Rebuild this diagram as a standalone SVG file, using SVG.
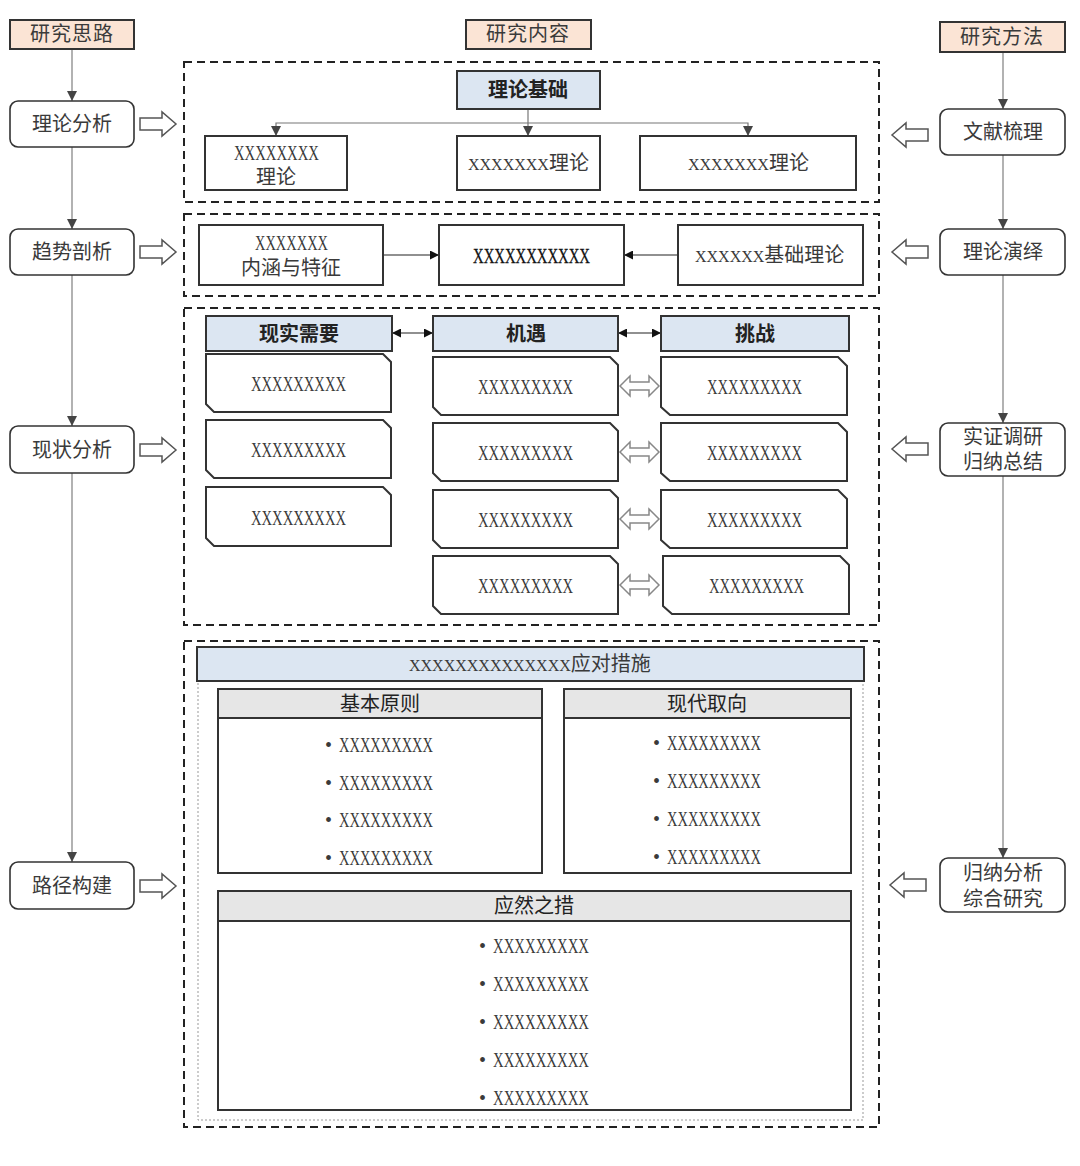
<svg xmlns="http://www.w3.org/2000/svg" width="1080" height="1166" viewBox="0 0 1080 1166">
<style>
text{font-family:"Liberation Serif","Noto Sans CJK SC",serif;font-size:20px;fill:#3a3a3a}
.x{font-family:"Liberation Serif",serif;font-size:22px}
.xs{font-family:"Liberation Serif",serif;font-size:16px}
.c{text-anchor:middle}
.b{font-weight:bold;fill:#222}
.hdr{fill:#fbe4d5;stroke:#333;stroke-width:2}
.node{fill:#fff;stroke:#333;stroke-width:1.6}
.box{fill:#fff;stroke:#333;stroke-width:2}
.blue{fill:#dce6f2;stroke:#333;stroke-width:2}
.gray{fill:#e6e6e6;stroke:#333;stroke-width:2}
.sec{fill:none;stroke:#222;stroke-width:2;stroke-dasharray:8 5}
.dot{fill:none;stroke:#999;stroke-width:1;stroke-dasharray:2 2}
.col{stroke:#999;stroke-width:1.5;fill:none}
.thin{stroke:#777;stroke-width:1.2;fill:none}
.blk{stroke:#222;stroke-width:1.2;fill:none}
.hol{fill:#fff;stroke:#555;stroke-width:1.5}
.dbl{fill:#fff;stroke:#888;stroke-width:1.5}
</style>
<defs>
<marker id="ah" viewBox="0 0 10 10" refX="10" refY="5" markerWidth="10" markerHeight="10" markerUnits="userSpaceOnUse" orient="auto-start-reverse"><path d="M0,0 L10,5 L0,10 z" fill="#444"/></marker>
<marker id="ab" viewBox="0 0 10 10" refX="10" refY="5" markerWidth="9" markerHeight="9" markerUnits="userSpaceOnUse" orient="auto-start-reverse"><path d="M0,0 L10,5 L0,10 z" fill="#111"/></marker>
</defs>
<rect width="1080" height="1166" fill="#fff"/>

<!-- section frames -->
<g id="sections">
<rect class="sec" x="184" y="62" width="695" height="140"/>
<rect class="sec" x="184" y="214" width="695" height="82"/>
<rect class="sec" x="184" y="308" width="695" height="317"/>
<rect class="sec" x="184" y="641" width="695" height="486"/>
<rect class="dot" x="198" y="681" width="665" height="439"/>
</g>

<!-- connectors -->
<g id="connectors">
<line class="col" x1="72" y1="49" x2="72" y2="101" marker-end="url(#ah)"/>
<line class="col" x1="72" y1="147" x2="72" y2="229" marker-end="url(#ah)"/>
<line class="col" x1="72" y1="275" x2="72" y2="426" marker-end="url(#ah)"/>
<line class="col" x1="72" y1="473" x2="72" y2="862" marker-end="url(#ah)"/>
<line class="col" x1="1003" y1="52" x2="1003" y2="109" marker-end="url(#ah)"/>
<line class="col" x1="1003" y1="155" x2="1003" y2="229" marker-end="url(#ah)"/>
<line class="col" x1="1003" y1="275" x2="1003" y2="423" marker-end="url(#ah)"/>
<line class="col" x1="1003" y1="476" x2="1003" y2="858" marker-end="url(#ah)"/>
<line class="thin" x1="528" y1="109" x2="528" y2="136" marker-end="url(#ah)"/>
<polyline class="thin" points="276,136 276,123 748,123 748,136" marker-start="url(#ah)" marker-end="url(#ah)"/>
<line class="blk" x1="383" y1="255" x2="439" y2="255" marker-end="url(#ab)"/>
<line class="blk" x1="678" y1="255" x2="624" y2="255" marker-end="url(#ab)"/>
<line class="blk" x1="392" y1="333" x2="433" y2="333" marker-start="url(#ab)" marker-end="url(#ab)"/>
<line class="blk" x1="618" y1="333" x2="661" y2="333" marker-start="url(#ab)" marker-end="url(#ab)"/>
<path class="hol" d="M140,118 H162 V112 L176,124 L162,136 V130 H140 Z"/>
<path class="hol" d="M140,246 H162 V240 L176,252 L162,264 V258 H140 Z"/>
<path class="hol" d="M140,444 H162 V438 L176,450 L162,462 V456 H140 Z"/>
<path class="hol" d="M140,880 H162 V874 L176,886 L162,898 V892 H140 Z"/>
<path class="hol" d="M928,129 H906 V123 L892,135 L906,147 V141 H928 Z"/>
<path class="hol" d="M928,246 H906 V240 L892,252 L906,264 V258 H928 Z"/>
<path class="hol" d="M928,443 H906 V437 L892,449 L906,461 V455 H928 Z"/>
<path class="hol" d="M926,879 H904 V873 L890,885 L904,897 V891 H926 Z"/>
<path class="dbl" d="M620,386 L630,376 V382 H649 V376 L659,386 L649,396 V390 H630 V396 Z"/>
<path class="dbl" d="M620,452 L630,442 V448 H649 V442 L659,452 L649,462 V456 H630 V462 Z"/>
<path class="dbl" d="M620,519 L630,509 V515 H649 V509 L659,519 L649,529 V523 H630 V529 Z"/>
<path class="dbl" d="M620,585 L630,575 V581 H649 V575 L659,585 L649,595 V589 H630 V595 Z"/>
</g>

<!-- column headers -->
<g id="h-silu"><rect class="hdr" x="10" y="20" width="124" height="29"/><text class="c" x="72" y="41" letter-spacing="1">研究思路</text></g>
<g id="h-neirong"><rect class="hdr" x="466" y="20" width="125" height="29"/><text class="c" x="528" y="41" letter-spacing="1">研究内容</text></g>
<g id="h-fangfa"><rect class="hdr" x="940" y="22" width="125" height="30"/><text class="c" x="1002" y="44" letter-spacing="1">研究方法</text></g>

<!-- left column -->
<g id="n-lilun"><rect class="node" x="10" y="101" width="124" height="46" rx="8"/><text class="c" x="72" y="131">理论分析</text></g>
<g id="n-qushi"><rect class="node" x="10" y="229" width="124" height="46" rx="8"/><text class="c" x="72" y="259">趋势剖析</text></g>
<g id="n-xianzhuang"><rect class="node" x="10" y="426" width="124" height="47" rx="8"/><text class="c" x="72" y="457">现状分析</text></g>
<g id="n-lujing"><rect class="node" x="10" y="862" width="124" height="47" rx="8"/><text class="c" x="72" y="893">路径构建</text></g>

<!-- right column -->
<g id="n-wenxian"><rect class="node" x="940" y="109" width="125" height="46" rx="8"/><text class="c" x="1003" y="139">文献梳理</text></g>
<g id="n-yanyi"><rect class="node" x="940" y="229" width="125" height="46" rx="8"/><text class="c" x="1003" y="259">理论演绎</text></g>
<g id="n-shizheng"><rect class="node" x="940" y="423" width="125" height="53" rx="8"/><text class="c" x="1003" y="444">实证调研</text><text class="c" x="1003" y="469">归纳总结</text></g>
<g id="n-guina"><rect class="node" x="940" y="858" width="125" height="54" rx="8"/><text class="c" x="1003" y="880">归纳分析</text><text class="c" x="1003" y="906">综合研究</text></g>

<!-- section 1 -->
<g id="n-jichu"><rect class="blue" x="457" y="71" width="143" height="38"/><text class="c b" x="528" y="97">理论基础</text></g>
<g id="n-t1"><rect class="box" x="205" y="136" width="142" height="54"/><text class="x" x="234" y="160"><tspan textLength="85" lengthAdjust="spacingAndGlyphs">XXXXXXXX</tspan></text><text class="c" x="276" y="184">理论</text></g>
<g id="n-t2"><rect class="box" x="457" y="136" width="143" height="54"/><text x="468" y="170"><tspan class="xs">XXXXXXX</tspan>理论</text></g>
<g id="n-t3"><rect class="box" x="640" y="136" width="216" height="54"/><text x="688" y="170"><tspan class="xs">XXXXXXX</tspan>理论</text></g>

<!-- section 2 -->
<g id="n-neihan"><rect class="box" x="199" y="225" width="184" height="60"/><text class="x" x="255" y="250"><tspan textLength="73" lengthAdjust="spacingAndGlyphs">XXXXXXX</tspan></text><text class="c" x="291" y="275">内涵与特征</text></g>
<g id="n-core"><rect class="box" x="439" y="225" width="185" height="60"/><text class="x" x="473" y="263" style="fill:#111;stroke:#111;stroke-width:0.3"><tspan textLength="117" lengthAdjust="spacingAndGlyphs">XXXXXXXXXXX</tspan></text></g>
<g id="n-jichulilun"><rect class="box" x="678" y="225" width="185" height="60"/><text x="695" y="262"><tspan class="xs">XXXXXX</tspan>基础理论</text></g>

<!-- section 3 -->
<g id="n-xuqiu"><rect class="blue" x="206" y="316" width="186" height="35"/><text class="c b" x="299" y="341">现实需要</text></g>
<g id="n-jiyu"><rect class="blue" x="433" y="316" width="185" height="35"/><text class="c b" x="526" y="341">机遇</text></g>
<g id="n-tiaozhan"><rect class="blue" x="661" y="316" width="188" height="35"/><text class="c b" x="755" y="341">挑战</text></g>

<g id="n-r1"><path class="box" d="M206,354 H383 L391,362 V412 H214 L206,404 Z"/><text class="x" x="251" y="391"><tspan textLength="95" lengthAdjust="spacingAndGlyphs">XXXXXXXXX</tspan></text></g>
<g id="n-r2"><path class="box" d="M206,420 H383 L391,428 V478 H214 L206,470 Z"/><text class="x" x="251" y="457"><tspan textLength="95" lengthAdjust="spacingAndGlyphs">XXXXXXXXX</tspan></text></g>
<g id="n-r3"><path class="box" d="M206,487 H383 L391,495 V546 H214 L206,538 Z"/><text class="x" x="251" y="525"><tspan textLength="95" lengthAdjust="spacingAndGlyphs">XXXXXXXXX</tspan></text></g>

<g id="n-j1"><path class="box" d="M433,357 H610 L618,365 V415 H441 L433,407 Z"/><text class="x" x="478" y="394"><tspan textLength="95" lengthAdjust="spacingAndGlyphs">XXXXXXXXX</tspan></text></g>
<g id="n-j2"><path class="box" d="M433,423 H610 L618,431 V481 H441 L433,473 Z"/><text class="x" x="478" y="460"><tspan textLength="95" lengthAdjust="spacingAndGlyphs">XXXXXXXXX</tspan></text></g>
<g id="n-j3"><path class="box" d="M433,490 H610 L618,498 V548 H441 L433,540 Z"/><text class="x" x="478" y="527"><tspan textLength="95" lengthAdjust="spacingAndGlyphs">XXXXXXXXX</tspan></text></g>
<g id="n-j4"><path class="box" d="M433,556 H610 L618,564 V614 H441 L433,606 Z"/><text class="x" x="478" y="593"><tspan textLength="95" lengthAdjust="spacingAndGlyphs">XXXXXXXXX</tspan></text></g>

<g id="n-c1"><path class="box" d="M661,357 H838 L847,366 V415 H670 L661,407 Z"/><text class="x" x="707" y="394"><tspan textLength="95" lengthAdjust="spacingAndGlyphs">XXXXXXXXX</tspan></text></g>
<g id="n-c2"><path class="box" d="M661,423 H838 L847,432 V481 H670 L661,473 Z"/><text class="x" x="707" y="460"><tspan textLength="95" lengthAdjust="spacingAndGlyphs">XXXXXXXXX</tspan></text></g>
<g id="n-c3"><path class="box" d="M661,490 H838 L847,499 V548 H670 L661,540 Z"/><text class="x" x="707" y="527"><tspan textLength="95" lengthAdjust="spacingAndGlyphs">XXXXXXXXX</tspan></text></g>
<g id="n-c4"><path class="box" d="M663,556 H840 L849,565 V614 H672 L663,606 Z"/><text class="x" x="709" y="593"><tspan textLength="95" lengthAdjust="spacingAndGlyphs">XXXXXXXXX</tspan></text></g>

<!-- section 4 -->
<g id="n-cuoshi"><rect class="blue" x="197" y="647" width="667" height="34"/><text x="409" y="671"><tspan class="xs">XXXXXXXXXXXXXX</tspan>应对措施</text></g>

<g id="n-yuanze">
<rect class="box" x="218" y="689" width="324" height="184"/>
<rect class="gray" x="218" y="689" width="324" height="29"/>
<text class="c" x="380" y="711" style="fill:#222">基本原则</text>
<text x="325" y="752">•<tspan class="x" x="339" textLength="94" lengthAdjust="spacingAndGlyphs">XXXXXXXXX</tspan></text>
<text x="325" y="790">•<tspan class="x" x="339" textLength="94" lengthAdjust="spacingAndGlyphs">XXXXXXXXX</tspan></text>
<text x="325" y="827">•<tspan class="x" x="339" textLength="94" lengthAdjust="spacingAndGlyphs">XXXXXXXXX</tspan></text>
<text x="325" y="865">•<tspan class="x" x="339" textLength="94" lengthAdjust="spacingAndGlyphs">XXXXXXXXX</tspan></text>
</g>

<g id="n-quxiang">
<rect class="box" x="564" y="689" width="287" height="184"/>
<rect class="gray" x="564" y="689" width="287" height="29"/>
<text class="c" x="707" y="711" style="fill:#222">现代取向</text>
<text x="653" y="750">•<tspan class="x" x="667" textLength="94" lengthAdjust="spacingAndGlyphs">XXXXXXXXX</tspan></text>
<text x="653" y="788">•<tspan class="x" x="667" textLength="94" lengthAdjust="spacingAndGlyphs">XXXXXXXXX</tspan></text>
<text x="653" y="826">•<tspan class="x" x="667" textLength="94" lengthAdjust="spacingAndGlyphs">XXXXXXXXX</tspan></text>
<text x="653" y="864">•<tspan class="x" x="667" textLength="94" lengthAdjust="spacingAndGlyphs">XXXXXXXXX</tspan></text>
</g>

<g id="n-yingran">
<rect class="box" x="218" y="891" width="633" height="219"/>
<rect class="gray" x="218" y="891" width="633" height="30"/>
<text class="c" x="534" y="913" style="fill:#222">应然之措</text>
<text x="479" y="953">•<tspan class="x" x="493" textLength="96" lengthAdjust="spacingAndGlyphs">XXXXXXXXX</tspan></text>
<text x="479" y="991">•<tspan class="x" x="493" textLength="96" lengthAdjust="spacingAndGlyphs">XXXXXXXXX</tspan></text>
<text x="479" y="1029">•<tspan class="x" x="493" textLength="96" lengthAdjust="spacingAndGlyphs">XXXXXXXXX</tspan></text>
<text x="479" y="1067">•<tspan class="x" x="493" textLength="96" lengthAdjust="spacingAndGlyphs">XXXXXXXXX</tspan></text>
<text x="479" y="1105">•<tspan class="x" x="493" textLength="96" lengthAdjust="spacingAndGlyphs">XXXXXXXXX</tspan></text>
</g>
</svg>
